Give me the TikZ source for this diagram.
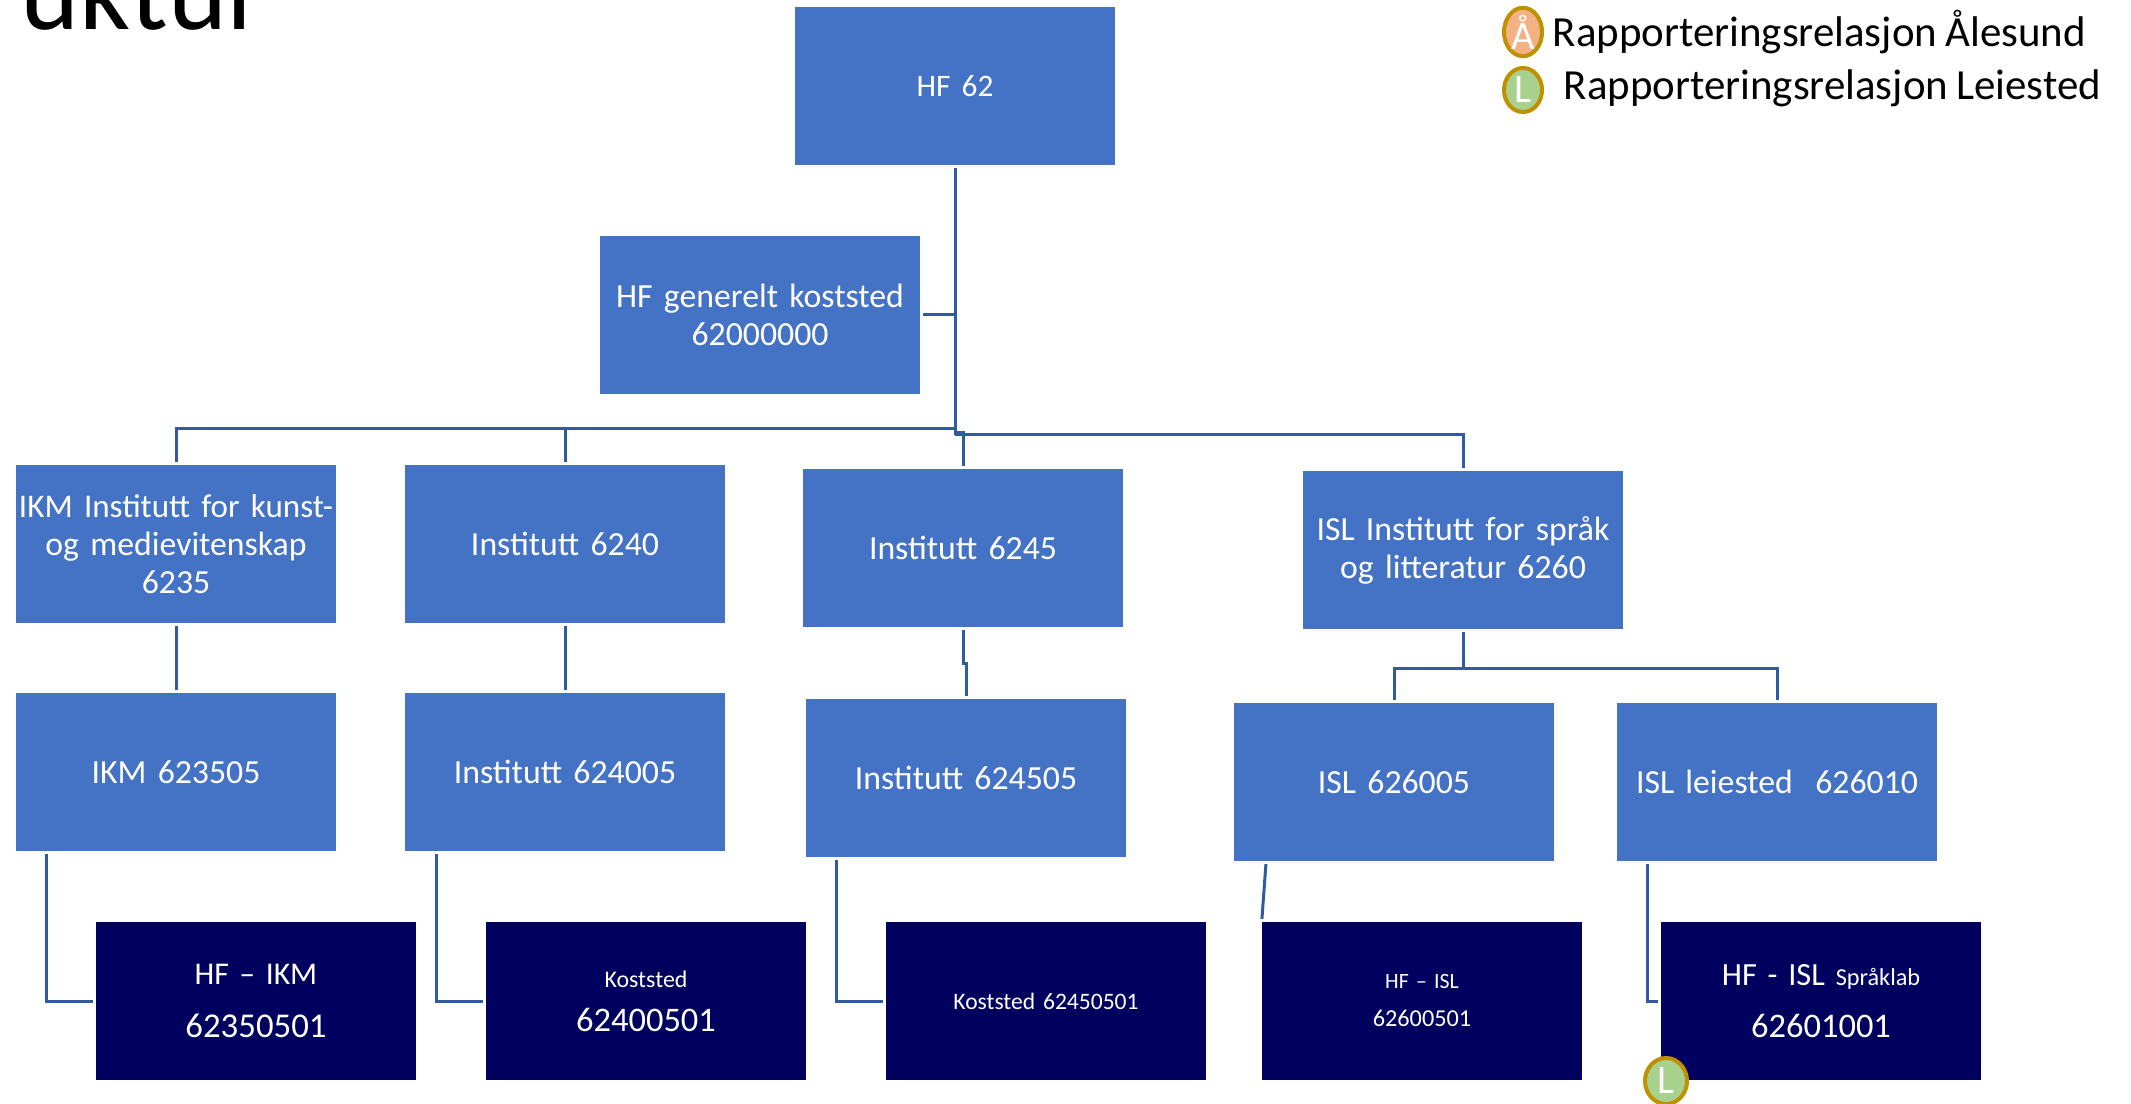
\documentclass[tikz,border=0pt]{standalone}
\usepackage{fontspec}
\setmainfont[WordSpace=0.85]{Carlito}
\usetikzlibrary{calc, shapes.geometric}

\definecolor{hfblue}{HTML}{4472C4}
\definecolor{hfnavy}{HTML}{00005F}
\definecolor{hfline}{HTML}{2F5BA3}
\definecolor{hfrim}{HTML}{BF9000}
\definecolor{hforange}{HTML}{F4B183}
\definecolor{hfgreen}{HTML}{A9D18E}

\tikzset{
    unit/.style={rectangle, fill=hfblue, text=white, text width=3.16cm, minimum width=3.2cm, minimum height=1.58cm, inner sep=0.02cm, outer sep=0.03cm, align=center, font=\fontsize{9.6}{10.8}\selectfont},
    cost/.style={unit, fill=hfnavy},
    conn/.style={hfline, line width=0.03cm},
    badge/.style={ellipse, draw=hfrim, line width=0.04cm, text=white, inner sep=0, minimum width=0.38cm, minimum height=0.44cm, font=\fontsize{11.5}{11.5}\selectfont},
    legend/.style={anchor=base west, inner sep=0, font=\fontsize{12.2}{14}\selectfont},
}

\begin{document}
\begin{tikzpicture}[x=0.01cm, y=-0.01cm]
\useasboundingbox (0,0) rectangle (2131,1104);

% Title, cut by the page
\draw (20,30) node[anchor=base west, inner sep=0, font=\fontsize{32}{36}\selectfont] (title) {uktur};

% Legend
\draw (1523,32) node[badge, fill=hforange] (aa-badge) {Å};
\draw (1523,90) node[badge, fill=hfgreen] (l-badge) {L};
\draw (1552,47) node[legend] (aa-text) {Rapporteringsrelasjon Ålesund};
\draw (1563,100) node[legend] (l-text) {Rapporteringsrelasjon Leiested};

% Top
\draw (955,86) node[unit] (hf) {\fontsize{8.9}{10}\selectfont HF 62};
\draw (760,315) node[unit] (hfgen) {HF generelt koststed\\62000000};

% Institutes
\draw (176,544) node[unit] (ikm) {\mbox{\fontsize{9.4}{10.8}\selectfont IKM Institutt for kunst-}\\og medievitenskap\\6235};
\draw (565,544) node[unit] (inst6240) {Institutt 6240};
\draw (963,548) node[unit] (inst6245) {Institutt 6245};
\draw (1463,550) node[unit] (isl) {ISL Institutt for språk\\og litteratur 6260};

% Second level
\draw (176,772) node[unit] (ikm05) {IKM 623505};
\draw (565,772) node[unit] (inst624005) {Institutt 624005};
\draw (966,778) node[unit] (inst624505) {Institutt 624505};
\draw (1394,782) node[unit] (isl05) {ISL 626005};
\draw (1777,782) node[unit] (isl10) {ISL leiested~~626010};

% Cost centres
\draw (256,1001) node[cost, font=\fontsize{9}{15}\selectfont] (hfikm) {HF -- IKM\\{\fontsize{9.9}{15}\selectfont 62350501}};
\draw (646,1001) node[cost, font=\fontsize{9.8}{12.5}\selectfont] (kost2400) {{\fontsize{6.8}{12.5}\selectfont Koststed}\\62400501};
\draw (1046,1001) node[cost, font=\fontsize{6.7}{12}\selectfont] (kost2450) {Koststed 62450501};
\draw (1422,1001) node[cost, font=\fontsize{6.2}{10.8}\selectfont] (hfisl) {HF -- ISL\\{\fontsize{6.9}{10.8}\selectfont 62600501}};
\draw (1821,1001) node[cost, font=\fontsize{9.2}{14.8}\selectfont] (hfspr) {HF - ISL {\fontsize{6.9}{12}\selectfont Språklab}\\{\fontsize{9.8}{14.8}\selectfont 62601001}};

% Joints under HF 62
\coordinate (hf-left) at (955,429);
\coordinate (hf-right) at (955,435);

\draw[conn] (hf.south) -- (hf-right);
\draw[conn] (hfgen.east) -- (hfgen.east -| hf.south);
\draw[conn] (ikm.north) |- (hf-left);
\draw[conn] (inst6240.north) -- (inst6240.north |- hf-left);
\draw[conn] (inst6245.north) |- ($(hf-right)+(0,-2)$);
\draw[conn] (isl.north) |- (hf-right);

% Institute to second level
\draw[conn] (ikm.south) -- (ikm05.north);
\draw[conn] (inst6240.south) -- (inst624005.north);
\draw[conn] (inst6245.south) -- ++(0,33) -| (inst624505.north);
\draw[conn] (isl.south) -- ++(0,36) -| (isl05.north);
\draw[conn] (isl.south) -- ++(0,36) -| (isl10.north);

% Second level to cost centres
\draw[conn] ($(ikm05.south west)+(34,0)$) |- (hfikm.west);
\draw[conn] ($(inst624005.south west)+(35,0)$) |- (kost2400.west);
\draw[conn] ($(inst624505.south west)+(34,0)$) |- (kost2450.west);
\draw[conn] ($(isl05.south west)+(35,0)$) -- ($(hfisl.north west)+(3,0)$);
\draw[conn] ($(isl10.south west)+(34,0)$) |- (hfspr.west);

% Badge on the cost centre
\draw (1666,1081) node[badge, fill=hfgreen, minimum width=0.42cm, minimum height=0.46cm] (spr-badge) {L};
\end{tikzpicture}
\end{document}
